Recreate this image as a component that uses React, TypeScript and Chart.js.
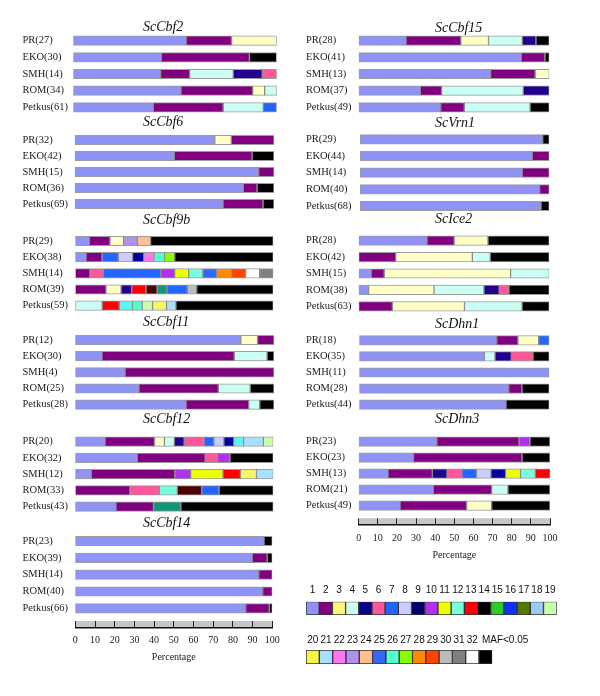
import React, { useEffect, useRef } from "react";
import { Chart, registerables } from "chart.js";

Chart.register(...registerables);

// ---------- haplotype colours (0 = MAF<0.05) ----------
const hapColors: Record<number, string> = {
  0: "#000000", 1: "#8f93f5", 2: "#800080", 3: "#ffffc6", 4: "#ccfff4", 5: "#22008e",
  6: "#ff5599", 7: "#2266ff", 8: "#ccccff", 9: "#0000a0", 10: "#b030f0", 11: "#eeff00",
  12: "#77ffdd", 13: "#ff0000", 19: "#ccffaa", 20: "#f5f566", 21: "#aae0ff", 22: "#ff77ee",
  23: "#b090f0", 24: "#ffc090", 25: "#3366ff", 26: "#55ffcc", 27: "#88ff00", 28: "#ff8800",
  29: "#ff4400", 30: "#bbbbbb", 31: "#808080", 32: "#ffffff", 33: "#5ef4f4", 34: "#4c0000",
  35: "#139678",
};

// ---------- legend ----------
const legendRow1Labels = ["1","2","3","4","5","6","7","8","9","10","11","12","13","14","15","16","17","18","19"];
const legendRow1Colors = ["#8f93f5","#800080","#f7f77a","#ccfff4","#0a0088","#ff5599","#2266ff","#ccccff","#000070","#b030f0","#eeff00","#77ffdd","#ff0000","#000000","#2ccc2c","#1030ff","#557700","#99ccf5","#ccffaa"];
const legendRow2Labels = ["20","21","22","23","24","25","26","27","28","29","30","31","32","MAF<0.05"];
const legendRow2Colors = ["#f5f545","#aae0ff","#ff77ee","#b090f0","#ffc090","#3366ff","#55ffcc","#88ff00","#ff8800","#ff4400","#bbbbbb","#808080","#ffffff","#000000"];

const percentTicks = [0, 10, 20, 30, 40, 50, 60, 70, 80, 90, 100];

// ---------- data: haplotype ids and percentages per line ----------
const cbf2Lines = ["PR(27)", "EKO(30)", "SMH(14)", "ROM(34)", "Petkus(61)"];
const cbf2Haps = [[1, 2, 3], [1, 2, 0], [1, 2, 4, 5, 6], [1, 2, 3, 4], [1, 2, 4, 7]];
const cbf2Pct = [[55.5, 22.3, 22.2], [43.3, 43.3, 13.4], [42.9, 14.3, 21.4, 14.3, 7.1], [52.9, 35.3, 5.9, 5.9], [39.3, 34.4, 19.7, 6.6]];

const cbf6Lines = ["PR(32)", "EKO(42)", "SMH(15)", "ROM(36)", "Petkus(69)"];
const cbf6Haps = [[1, 3, 2], [1, 2, 0], [1, 2], [1, 2, 0], [1, 2, 0]];
const cbf6Pct = [[70.3, 8.3, 21.4], [50.0, 39.0, 11.0], [92.3, 7.7], [84.6, 6.9, 8.5], [74.4, 20.1, 5.5]];

const cbf9bLines = ["PR(29)", "EKO(38)", "SMH(14)", "ROM(39)", "Petkus(59)"];
const cbf9bHaps = [
  [1, 2, 3, 23, 24, 0],
  [1, 2, 7, 8, 9, 22, 26, 27, 0],
  [2, 6, 7, 10, 11, 12, 25, 28, 29, 32, 31],
  [2, 3, 5, 13, 34, 35, 7, 30, 0],
  [4, 13, 33, 26, 19, 20, 21, 0],
];
const cbf9bPct = [
  [7.1, 10.4, 6.9, 6.9, 6.7, 62.0],
  [5.4, 8.1, 8.2, 7.2, 5.7, 5.1, 5.4, 5.1, 49.8],
  [7.4, 6.7, 29.0, 7.1, 7.1, 7.1, 7.1, 7.4, 7.1, 7.1, 6.9],
  [15.5, 7.6, 5.4, 7.2, 5.6, 4.9, 10.4, 4.7, 38.7],
  [13.6, 8.6, 6.7, 4.9, 5.2, 7.1, 4.7, 49.2],
];

const cbf11Lines = ["PR(12)", "EKO(30)", "SMH(4)", "ROM(25)", "Petkus(28)"];
const cbf11Haps = [[1, 3, 2], [1, 2, 4, 0], [1, 2], [1, 2, 4, 0], [1, 2, 4, 0]];
const cbf11Pct = [[83.3, 8.4, 8.3], [13.4, 66.6, 16.5, 3.5], [25.0, 75.0], [32.0, 40.0, 16.0, 12.0], [55.7, 31.6, 5.5, 7.2]];

const cbf12Lines = ["PR(20)", "EKO(32)", "SMH(12)", "ROM(33)", "Petkus(43)"];
const cbf12Haps = [
  [1, 2, 3, 4, 5, 6, 7, 8, 9, 33, 21, 19],
  [1, 2, 6, 10, 0],
  [1, 2, 10, 11, 13, 20, 21],
  [2, 6, 12, 34, 7, 0],
  [1, 2, 35, 0],
];
const cbf12Pct = [
  [15, 25, 5, 5, 5, 10, 5, 5, 5, 5, 10, 5],
  [31.3, 34.3, 6.2, 6.3, 21.9],
  [8.1, 42.1, 8.1, 16.3, 8.8, 8.1, 8.5],
  [27.6, 14.8, 9.1, 12.3, 8.8, 27.4],
  [20.5, 19.0, 13.8, 46.7],
];

const cbf14Lines = ["PR(23)", "EKO(39)", "SMH(14)", "ROM(40)", "Petkus(66)"];
const cbf14Haps = [[1, 0], [1, 2, 0], [1, 2], [1, 2], [1, 2, 0]];
const cbf14Pct = [[95.8, 4.2], [89.8, 7.6, 2.6], [93.1, 6.9], [95.1, 4.9], [86.5, 12.0, 1.5]];

const cbf15Lines = ["PR(28)", "EKO(41)", "SMH(13)", "ROM(37)", "Petkus(49)"];
const cbf15Haps = [[1, 2, 3, 4, 5, 0], [1, 2, 0], [1, 2, 3], [1, 2, 4, 5], [1, 2, 4, 0]];
const cbf15Pct = [[24.8, 28.8, 14.5, 17.7, 7.2, 7.0], [85.3, 12.4, 2.3], [69.2, 23.4, 7.4], [32.3, 11.2, 42.8, 13.7], [43.0, 12.4, 34.5, 10.1]];

const vrn1Lines = ["PR(29)", "EKO(44)", "SMH(14)", "ROM(40)", "Petkus(68)"];
const vrn1Haps = [[1, 0], [1, 2], [1, 2], [1, 2], [1, 0]];
const vrn1Pct = [[96.5, 3.5], [91.0, 9.0], [85.7, 14.3], [94.9, 5.1], [95.6, 4.4]];

const ice2Lines = ["PR(28)", "EKO(42)", "SMH(15)", "ROM(38)", "Petkus(63)"];
const ice2Haps = [[1, 2, 3, 0], [2, 3, 4, 0], [1, 2, 3, 4], [1, 3, 4, 5, 6, 0], [2, 3, 4, 0]];
const ice2Pct = [[35.8, 14.3, 17.7, 32.2], [19.4, 40.2, 9.4, 31.0], [6.6, 6.8, 66.3, 20.3], [5.2, 34.3, 26.2, 8.0, 5.1, 21.2], [17.7, 37.8, 30.2, 14.3]];

const dhn1Lines = ["PR(18)", "EKO(35)", "SMH(11)", "ROM(28)", "Petkus(44)"];
const dhn1Haps = [[1, 2, 3, 7], [1, 4, 5, 6, 0], [1], [1, 2, 0], [1, 0]];
const dhn1Pct = [[72.3, 11.2, 10.9, 5.6], [65.8, 5.6, 8.6, 11.4, 8.6], [100], [78.6, 7.0, 14.4], [77.2, 22.8]];

const dhn3Lines = ["PR(23)", "EKO(23)", "SMH(13)", "ROM(21)", "Petkus(49)"];
const dhn3Haps = [[1, 2, 10, 0], [1, 2, 0], [1, 2, 5, 6, 7, 8, 9, 11, 12, 13], [1, 2, 4, 0], [1, 2, 3, 0]];
const dhn3Pct = [[40.8, 43.0, 5.7, 10.5], [28.6, 56.8, 14.6], [15.3, 23.2, 7.7, 7.7, 7.7, 7.5, 7.7, 7.8, 7.7, 7.8], [39.0, 30.5, 8.5, 22.0], [21.6, 34.8, 13.1, 30.5]];

// ---------- layout ----------
const SERIF = '"Liberation Serif", "Times New Roman", Times, serif';
const SANS = '"Liberation Sans", Arial, sans-serif';

type Geo = { labelX: number; x0: number; x1: number; yFirst: number; yLast: number; titleX: number; titleY: number };

const panels: { title: string; lines: string[]; haps: number[][]; pct: number[][]; geo: Geo }[] = [
  { title: "ScCbf2", lines: cbf2Lines, haps: cbf2Haps, pct: cbf2Pct, geo: { labelX: 22.5, x0: 73.3, x1: 276.7, yFirst: 40.7, yLast: 107.3, titleX: 143.3, titleY: 26.7 } },
  { title: "ScCbf6", lines: cbf6Lines, haps: cbf6Haps, pct: cbf6Pct, geo: { labelX: 22.5, x0: 74.7, x1: 274, yFirst: 140, yLast: 204, titleX: 143.3, titleY: 122 } },
  { title: "ScCbf9b", lines: cbf9bLines, haps: cbf9bHaps, pct: cbf9bPct, geo: { labelX: 22.5, x0: 75.3, x1: 273.3, yFirst: 241, yLast: 305.7, titleX: 143.3, titleY: 219.5 } },
  { title: "ScCbf11", lines: cbf11Lines, haps: cbf11Haps, pct: cbf11Pct, geo: { labelX: 22.5, x0: 75.3, x1: 274, yFirst: 340, yLast: 404.7, titleX: 143.3, titleY: 322 } },
  { title: "ScCbf12", lines: cbf12Lines, haps: cbf12Haps, pct: cbf12Pct, geo: { labelX: 22.5, x0: 75.3, x1: 273.3, yFirst: 441.7, yLast: 506.7, titleX: 143.3, titleY: 418.7 } },
  { title: "ScCbf14", lines: cbf14Lines, haps: cbf14Haps, pct: cbf14Pct, geo: { labelX: 22.5, x0: 75.3, x1: 272.3, yFirst: 541, yLast: 608.3, titleX: 143.3, titleY: 522.3 } },
  { title: "ScCbf15", lines: cbf15Lines, haps: cbf15Haps, pct: cbf15Pct, geo: { labelX: 306, x0: 358.7, x1: 549.3, yFirst: 40.7, yLast: 107.3, titleX: 435, titleY: 27.7 } },
  { title: "ScVrn1", lines: vrn1Lines, haps: vrn1Haps, pct: vrn1Pct, geo: { labelX: 306, x0: 360, x1: 549.3, yFirst: 139.3, yLast: 206, titleX: 435, titleY: 122.3 } },
  { title: "ScIce2", lines: ice2Lines, haps: ice2Haps, pct: ice2Pct, geo: { labelX: 306, x0: 358.7, x1: 549.3, yFirst: 240.7, yLast: 306.3, titleX: 435, titleY: 219 } },
  { title: "ScDhn1", lines: dhn1Lines, haps: dhn1Haps, pct: dhn1Pct, geo: { labelX: 306, x0: 359.3, x1: 549.3, yFirst: 340.3, yLast: 404.7, titleX: 435, titleY: 323.3 } },
  { title: "ScDhn3", lines: dhn3Lines, haps: dhn3Haps, pct: dhn3Pct, geo: { labelX: 306, x0: 358.7, x1: 550, yFirst: 441.7, yLast: 505.7, titleX: 435, titleY: 418.7 } },
];

function Panel({ title, lines, haps, pct, geo }: { title: string; lines: string[]; haps: number[][]; pct: number[][]; geo: Geo }) {
  const ref = useRef<HTMLCanvasElement>(null);
  const s = (geo.yLast - geo.yFirst) / 4;
  const areaTop = geo.yFirst - s / 2;
  const areaBottom = geo.yLast + s / 2;
  const left = Math.floor(geo.labelX) - 1;
  const top = Math.floor(areaTop) - 10;
  const width = Math.ceil(geo.x1) + 4 - left;
  const height = Math.ceil(areaBottom) + 10 - top;

  useEffect(() => {
    const n = Math.max(...pct.map((r) => r.length));
    const datasets: any[] = [];
    for (let k = 0; k < n; k++) {
      datasets.push({
        data: pct.map((r) => (r[k] === undefined ? null : r[k])),
        backgroundColor: haps.map((r) => (r[k] === undefined ? "transparent" : hapColors[r[k]])),
        borderColor: "rgba(60,60,60,0.5)",
        borderWidth: 1,
        borderSkipped: false,
        barThickness: 9.5,
      });
    }
    const chart = new Chart(ref.current!, {
      type: "bar",
      data: { labels: lines, datasets },
      options: {
        indexAxis: "y",
        animation: false,
        responsive: false,
        events: [],
        layout: {
          padding: {
            left: geo.labelX - left,
            top: areaTop - top,
            bottom: top + height - areaBottom,
            right: left + width - geo.x1,
          },
        },
        plugins: { legend: { display: false }, tooltip: { enabled: false }, title: { display: false } },
        scales: {
          x: { type: "linear", min: 0, max: 100, stacked: true, display: false },
          y: {
            type: "category",
            stacked: true,
            offset: true,
            grid: { display: false, drawTicks: false },
            border: { display: false },
            ticks: {
              autoSkip: false,
              crossAlign: "far",
              padding: 0,
              color: "#1a1a1a",
              font: { family: SERIF, size: 10.5 },
            },
            afterFit: (sc: any) => {
              sc.width = geo.x0 - geo.labelX;
            },
          },
        },
      } as any,
    });
    return () => chart.destroy();
  }, []);

  return (
    <>
      <canvas ref={ref} width={width} height={height} style={{ position: "absolute", left, top }} />
      <div
        style={{
          position: "absolute",
          left: geo.titleX,
          top: geo.titleY - 7.6,
          font: `italic 15px ${SERIF}`,
          lineHeight: "15px",
          whiteSpace: "nowrap",
          color: "#111",
          transform: "scaleX(0.93)",
          transformOrigin: "left center",
        }}
      >
        {title}
      </div>
    </>
  );
}

function PercentAxis({ x0, x1, bandTop, bandBottom }: { x0: number; x1: number; bandTop: number; bandBottom: number }) {
  const ref = useRef<HTMLCanvasElement>(null);
  const axisH = 35;
  const left = Math.floor(x0) - 20;
  const width = Math.ceil(x1) + 26 - left;
  const top = Math.floor(bandTop) - 2;
  const height = Math.ceil(bandBottom + axisH) + 2 - top;

  useEffect(() => {
    const chart = new Chart(ref.current!, {
      type: "bar",
      data: {
        labels: [""],
        datasets: [
          {
            data: [100],
            backgroundColor: "#c6c6c6",
            borderWidth: 0,
            categoryPercentage: 1,
            barPercentage: 1,
          },
        ],
      },
      options: {
        indexAxis: "y",
        animation: false,
        responsive: false,
        events: [],
        layout: {
          padding: {
            left: x0 - left,
            right: left + width - x1,
            top: bandTop - top,
            bottom: top + height - (bandBottom + axisH),
          },
        },
        plugins: { legend: { display: false }, tooltip: { enabled: false } },
        scales: {
          y: { type: "category", display: false },
          x: {
            type: "linear",
            min: 0,
            max: 100,
            afterBuildTicks: (sc: any) => {
              sc.ticks = percentTicks.map((v) => ({ value: v }));
            },
            afterFit: (sc: any) => {
              sc.height = axisH;
            },
            grid: { display: true, drawOnChartArea: true, drawTicks: false, color: "#222", lineWidth: 1, z: 1 },
            border: { display: true, color: "#111", width: 1.5, z: 1 },
            ticks: {
              padding: 8,
              color: "#1a1a1a",
              maxRotation: 0,
              font: { family: SERIF, size: 10, lineHeight: 1 },
            },
            title: {
              display: true,
              text: "Percentage",
              color: "#1a1a1a",
              padding: { top: 0, bottom: 0 },
              font: { family: SERIF, size: 10, lineHeight: 1 },
            },
          },
        },
      } as any,
    });
    return () => chart.destroy();
  }, []);

  return <canvas ref={ref} width={width} height={height} style={{ position: "absolute", left, top }} />;
}

function LegendRow({ labels, colors, x0, x1, top: swTop, bottom: swBottom, labelCenter }: { labels: string[]; colors: string[]; x0: number; x1: number; top: number; bottom: number; labelCenter: number }) {
  const ref = useRef<HTMLCanvasElement>(null);
  const pad = swTop - labelCenter - 5;
  const axisH = 2 * pad + 10;
  const left = Math.floor(x0) - 4;
  const width = Math.ceil(x1) + 60 - left;
  const top = Math.floor(swTop - axisH) - 2;
  const height = Math.ceil(swBottom) + 3 - top;

  useEffect(() => {
    const chart = new Chart(ref.current!, {
      type: "bar",
      data: {
        labels,
        datasets: [
          {
            data: labels.map(() => 1),
            backgroundColor: colors,
            borderColor: "#333",
            borderWidth: 1,
            borderSkipped: false,
            categoryPercentage: 1,
            barPercentage: 1,
          },
        ],
      },
      options: {
        animation: false,
        responsive: false,
        events: [],
        layout: {
          padding: {
            left: x0 - left,
            right: left + width - x1,
            top: swTop - axisH - top,
            bottom: top + height - swBottom,
          },
        },
        plugins: { legend: { display: false }, tooltip: { enabled: false } },
        scales: {
          y: { type: "linear", min: 0, max: 1, display: false },
          x: {
            type: "category",
            position: "top",
            grid: { display: false, drawTicks: false },
            border: { display: false },
            afterFit: (sc: any) => {
              sc.height = axisH;
            },
            ticks: {
              autoSkip: false,
              maxRotation: 0,
              minRotation: 0,
              padding: pad,
              color: "#111",
              font: { family: SANS, size: 10, lineHeight: 1 },
              callback: (_v: any, i: number) => (labels[i] === "MAF<0.05" ? " ".repeat(14) + labels[i] : labels[i]),
            },
          },
        },
      } as any,
    });
    return () => chart.destroy();
  }, []);

  return <canvas ref={ref} width={width} height={height} style={{ position: "absolute", left, top }} />;
}

export default function App() {
  return (
    <div style={{ position: "absolute", left: 0, top: 0, width: 600, height: 696, background: "#fff", overflow: "hidden" }}>
      {panels.map((p) => (
        <Panel key={p.title} title={p.title} lines={p.lines} haps={p.haps} pct={p.pct} geo={p.geo} />
      ))}
      <PercentAxis x0={75.3} x1={272.3} bandTop={621} bandBottom={627.3} />
      <PercentAxis x0={358.7} x1={550} bandTop={518.3} bandBottom={525} />
      <LegendRow labels={legendRow1Labels} colors={legendRow1Colors} x0={306} x1={556.7} top={601.7} bottom={615} labelCenter={590} />
      <LegendRow labels={legendRow2Labels} colors={legendRow2Colors} x0={306} x1={492.3} top={650} bottom={664} labelCenter={640} />
    </div>
  );
}
